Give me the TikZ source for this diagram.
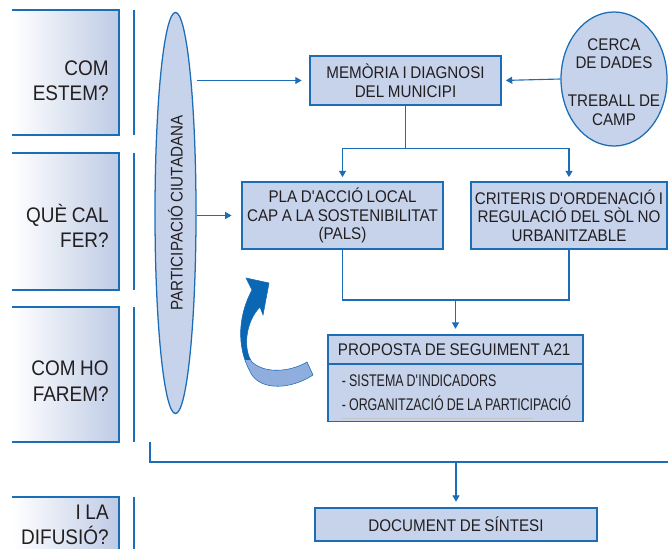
\documentclass[tikz,border=0pt]{standalone}
\usepackage{fontspec}
\setmainfont{Liberation Sans}[FakeStretch=0.9, WordSpace=0.85]
\usepackage{tikz}
\usetikzlibrary{arrows.meta, shapes.geometric, positioning, calc}
\definecolor{lineblue}{RGB}{27,109,181}
\definecolor{boxfill}{RGB}{198,211,235}
\definecolor{qfill}{RGB}{190,203,229}
\definecolor{textgray}{RGB}{35,31,32}
\definecolor{curldark}{RGB}{10,103,180}
\definecolor{curllight}{RGB}{143,174,221}
\newcommand\narrowline[1]{\makebox[5.675cm][l]{\scalebox{0.82}[1]{#1}}}
\tikzset{
  box/.style={draw=lineblue, line width=0.9pt, fill=boxfill, text=textgray, align=center, inner sep=0pt, font=\fontsize{12}{13.3}\selectfont},
  bubble/.style={ellipse, draw=lineblue, line width=0.9pt, fill=boxfill, text=textgray, inner sep=0pt},
  qline/.style={draw=lineblue, line width=1.5pt},
  qlabel/.style={anchor=east, align=right, inner sep=0pt, text=textgray, font=\fontsize{15}{18}\selectfont},
  link/.style={draw=lineblue, line width=0.8pt},
  arrow/.style={link, -{Triangle[width=5pt,length=4.5pt]}},
}

\begin{document}
\begin{tikzpicture}[x=0.025cm, y=-0.025cm]
\useasboundingbox (0,0) rectangle (668,548);

% questions on the left
\foreach \ya/\yb/\yt/\qtext [count=\i] in {10/135/81/{COM\\ESTEM?}, 153/290/226/{QUÈ CAL\\FER?}, 307/442/381/{COM HO\\FAREM?}, 497/552/525/{I LA\\DIFUSIÓ?}} {
  \shade[left color=white, right color=qfill] (12,\ya) rectangle (119,\yb);
  \draw[qline] (12,\ya) -| (119,\yb) -- (12,\yb);
  \draw[qline] (134,\ya) -- (134,\yb);
  \node[qlabel] (q\i) at (109,\yt) {\qtext};
}

\node[bubble, minimum width=10.025cm, minimum height=1.025cm, rotate=90, font=\fontsize{12}{13}\selectfont] (particip) at (175.5,213) {PARTICIPACIÓ CIUTADANA};

\node[box, minimum width=4.775cm, minimum height=1.225cm] (memoria) at (405.5,80.5) {MEMÒRIA I DIAGNOSI\\DEL MUNICIPI};
\node[bubble, minimum width=2.65cm, minimum height=3.35cm] (cerca) at (614,79) {};
\node[text=textgray, align=center, font=\fontsize{12}{13}\selectfont] (cercatext) at (614,82) {CERCA\\DE DADES\\[14pt]TREBALL DE\\CAMP};

\node[box, minimum width=5.025cm, minimum height=1.675cm] (pla) at (342.5,215.5) {PLA D\textquotesingle ACCIÓ LOCAL\\CAP A LA SOSTENIBILITAT\\(PALS)};
\node[box, minimum width=4.9cm, minimum height=1.675cm] (criteris) at (569,215.5) {CRITERIS D\textquotesingle ORDENACIÓ I\\REGULACIÓ DEL SÒL NO\\URBANITZABLE};

\node[box, minimum width=6.375cm, minimum height=0.725cm] (proposta) at (455.5,349.5) {\makebox[5.875cm][l]{PROPOSTA DE SEGUIMENT A21}};
\node[box, minimum width=6.375cm, minimum height=1.425cm, align=left, font=\fontsize{12}{17}\selectfont] (items) at (455.5,393) {\narrowline{- SISTEMA D\textquotesingle INDICADORS}\\\narrowline{- ORGANITZACIÓ DE LA PARTICIPACIÓ}};
\draw[gray!45, line width=0.6pt] (342,418) -- (533,418);

\node[box, minimum width=7.05cm, minimum height=0.825cm] (document) at (456,524.5) {DOCUMENT DE SÍNTESI};

% connectors
\draw[arrow, shorten >=5.5pt] (memoria.west -| particip.south) -- (memoria.west);
\draw[arrow, shorten >=3pt] (cerca.west) -- (memoria.east);
\draw[arrow, shorten >=7pt] (pla.west -| particip.south) -- (pla.west);

\coordinate (split) at ($(memoria.south)+(0,43)$);
\draw[link] (memoria.south) -- (split);
\draw[arrow, shorten >=3pt] (split) -| (pla.north);
\draw[arrow, shorten >=3pt] (split) -| (criteris.north);

\coordinate (join) at (proposta.north |- 0,300);
\draw[link] (pla.south) |- (join);
\draw[link] (criteris.south) |- (join);
\draw[arrow, shorten >=4pt] (join) -- (proposta.north);

\coordinate (collect) at (150,442);
\coordinate (spread) at (668,462);
\draw[link] (collect) |- (spread);
\draw[arrow, shorten >=4pt] (document.north |- spread) -- (document.north);

% curled arrow back to the plan
\path[save path=\curlpath] (252,290) .. controls (240,312) and (234,345) .. (252,375) .. controls (262,390) and (290,390) .. (313,375) -- (307,362) .. controls (290,372) and (265,374) .. (252,362) .. controls (243,350) and (245,322) .. (260,307) -- (263,315) -- (269,283) -- (246,278) -- cycle;
\fill[curllight, use path=\curlpath];
\begin{scope}
  \clip (220,270) rectangle (320,359);
  \fill[curldark, use path=\curlpath];
\end{scope}
\draw[lineblue, line width=0.4pt, use path=\curlpath];
\end{tikzpicture}
\end{document}
